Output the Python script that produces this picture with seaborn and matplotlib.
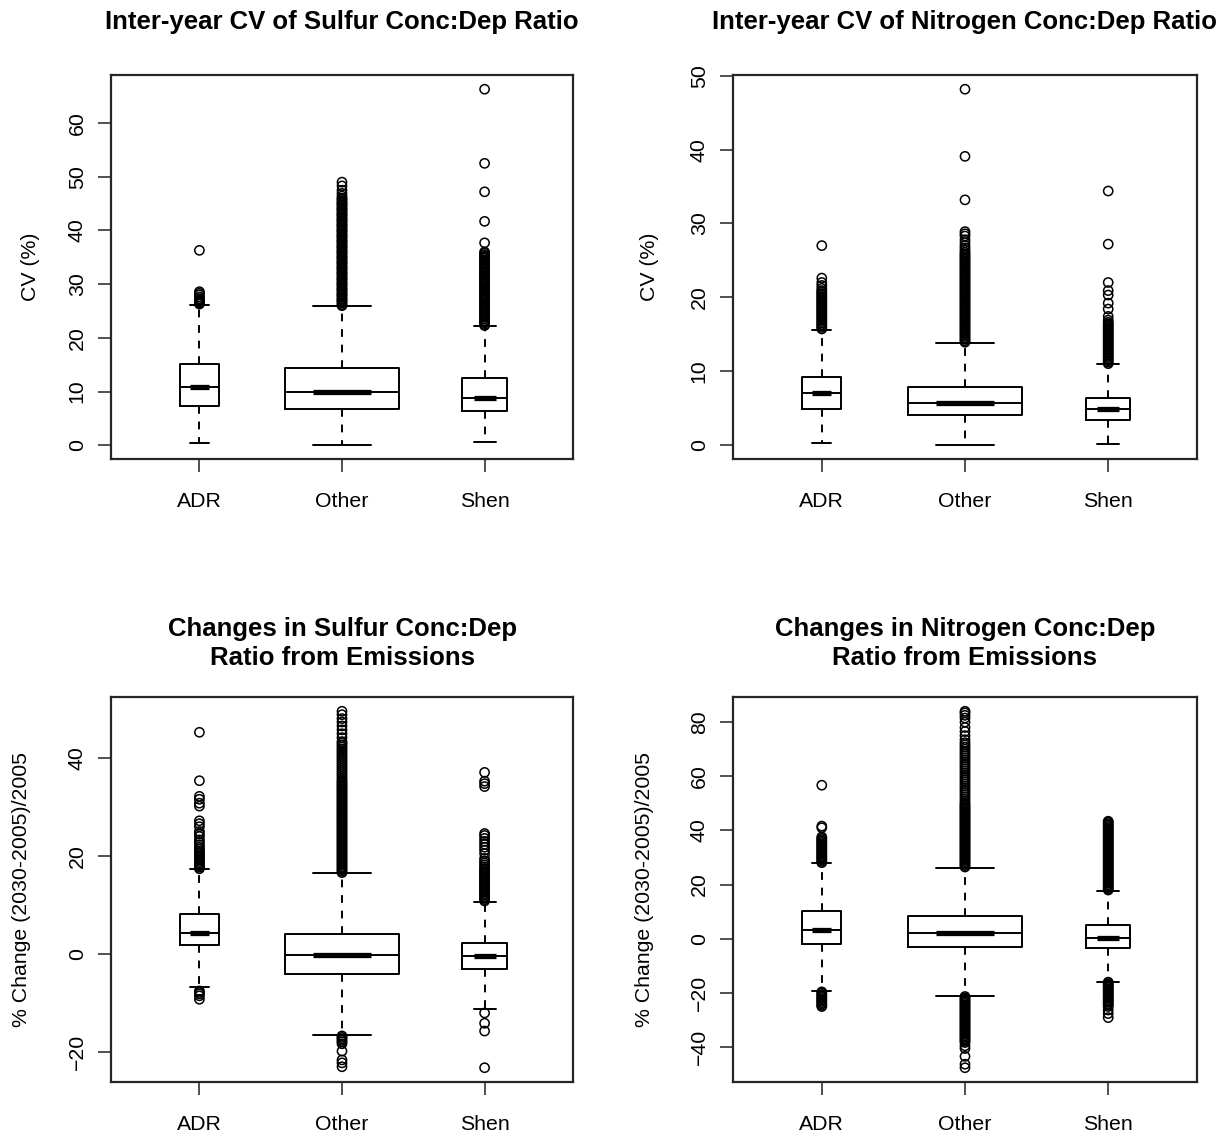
import numpy as np
import pandas as pd
import matplotlib
matplotlib.use("Agg")
import matplotlib.pyplot as plt
from matplotlib.ticker import MultipleLocator
import seaborn as sns

# ---------------- data ----------------
groups = ["ADR", "Other", "Shen"]

# Panel 1: Inter-year CV of Sulfur Conc:Dep Ratio
s_cv_title = "Inter-year CV of Sulfur Conc:Dep Ratio"
s_cv_ylabel = "CV (%)"
s_cv_whislo = [0.4, 0.1, 0.6]
s_cv_q1 = [7.35, 6.7, 6.35]
s_cv_med = [10.9, 10.0, 8.9]
s_cv_q3 = [15.1, 14.4, 12.6]
s_cv_whishi = [26.2, 26.0, 22.2]
s_cv_out_adr = [26.3, 26.5, 26.7, 26.9, 27.1, 27.3, 27.6, 28.0, 28.3, 28.6, 36.3]
s_cv_out_other = [26.0, 26.2, 26.5, 26.8, 27.0, 27.2, 27.5, 27.8, 28.0, 28.2, 28.5,
                  28.8, 29.0, 29.2, 29.5, 29.8, 30.0, 30.2, 30.5, 30.8, 31.0, 31.2,
                  31.5, 31.8, 32.0, 32.2, 32.5, 32.8, 33.0, 33.2, 33.5, 33.8, 34.0,
                  34.2, 34.5, 34.8, 35.0, 35.2, 35.5, 35.8, 36.0, 36.2, 36.5, 36.8,
                  37.0, 37.2, 37.5, 37.8, 38.0, 38.2, 38.5, 38.8, 39.0, 39.2, 39.5,
                  39.8, 40.0, 40.2, 40.5, 40.8, 41.0, 41.2, 41.5, 41.8, 42.0, 42.2,
                  42.5, 42.8, 43.0, 43.2, 43.5, 43.8, 44.0, 44.2, 44.5, 44.8, 45.0,
                  45.2, 45.5, 45.8, 46.0, 46.4, 46.9, 47.5, 48.3, 49.0]
s_cv_out_shen = [22.3, 22.5, 22.8, 23.0, 23.2, 23.5, 23.8, 24.0, 24.2, 24.5, 24.8,
                 25.0, 25.2, 25.5, 25.8, 26.0, 26.2, 26.5, 26.8, 27.0, 27.2, 27.5,
                 27.8, 28.0, 28.2, 28.5, 28.8, 29.0, 29.2, 29.5, 29.8, 30.0, 30.2,
                 30.5, 30.8, 31.0, 31.2, 31.5, 31.8, 32.0, 32.2, 32.5, 32.8, 33.0,
                 33.2, 33.5, 33.8, 34.0, 34.2, 34.5, 34.8, 35.0, 35.2, 35.5, 35.8,
                 36.0, 37.7, 41.7, 47.2, 52.5, 66.3]

# Panel 2: Inter-year CV of Nitrogen Conc:Dep Ratio
n_cv_title = "Inter-year CV of Nitrogen Conc:Dep Ratio"
n_cv_ylabel = "CV (%)"
n_cv_whislo = [0.3, 0.0, 0.05]
n_cv_q1 = [4.8, 4.0, 3.4]
n_cv_med = [7.0, 5.7, 4.8]
n_cv_q3 = [9.15, 7.9, 6.4]
n_cv_whishi = [15.6, 13.8, 10.95]
n_cv_out_adr = [15.7, 15.9, 16.1, 16.3, 16.5, 16.7, 16.9, 17.1, 17.3, 17.5, 17.7,
                17.9, 18.1, 18.3, 18.5, 18.7, 18.9, 19.1, 19.3, 19.5, 19.7, 19.9,
                20.1, 20.3, 20.5, 20.7, 20.9, 21.2, 21.6, 22.0, 22.6, 27.0]
n_cv_out_other = [13.9, 14.1, 14.3, 14.5, 14.7, 14.9, 15.1, 15.3, 15.5, 15.7, 15.9,
                  16.1, 16.3, 16.5, 16.7, 16.9, 17.1, 17.3, 17.5, 17.7, 17.9, 18.1,
                  18.3, 18.5, 18.7, 18.9, 19.1, 19.3, 19.5, 19.7, 19.9, 20.1, 20.3,
                  20.5, 20.7, 20.9, 21.1, 21.3, 21.5, 21.7, 21.9, 22.1, 22.3, 22.5,
                  22.7, 22.9, 23.1, 23.3, 23.5, 23.7, 23.9, 24.1, 24.3, 24.5, 24.7,
                  24.9, 25.1, 25.3, 25.5, 25.7, 25.9, 26.1, 26.4, 26.7, 27.0, 27.4,
                  27.8, 28.3, 28.6, 28.9, 33.2, 39.1, 48.2]
n_cv_out_shen = [11.0, 11.2, 11.4, 11.6, 11.8, 12.0, 12.2, 12.4, 12.6, 12.8, 13.0,
                 13.2, 13.4, 13.6, 13.8, 14.0, 14.2, 14.4, 14.6, 14.8, 15.0, 15.2,
                 15.4, 15.6, 15.8, 16.0, 16.2, 16.4, 16.6, 16.9, 17.4, 18.4, 19.2,
                 20.3, 20.9, 22.0, 27.2, 34.4]

# Panel 3: Changes in Sulfur Conc:Dep Ratio from Emissions
s_ch_title = "Changes in Sulfur Conc:Dep\nRatio from Emissions"
s_ch_ylabel = "% Change (2030-2005)/2005"
s_ch_whislo = [-6.7, -16.65, -11.3]
s_ch_q1 = [1.9, -4.15, -3.2]
s_ch_med = [4.3, -0.3, -0.5]
s_ch_q3 = [8.2, 4.0, 2.25]
s_ch_whishi = [17.3, 16.5, 10.6]
s_ch_out_adr = [17.4, 17.7, 18.0, 18.3, 18.6, 18.9, 19.2, 19.5, 19.8, 20.1, 20.4,
                20.7, 21.0, 21.4, 21.8, 22.3, 22.8, 23.3, 24.0, 24.5, 25.0, 26.0,
                26.6, 27.2, 30.2, 30.8, 31.6, 32.2, 35.4, 45.3,
                -7.6, -7.9, -8.2, -8.6, -9.3]
s_ch_out_other = [16.6, 16.9, 17.2, 17.5, 17.8, 18.1, 18.4, 18.7, 19.0, 19.3, 19.6,
                  19.9, 20.2, 20.5, 20.8, 21.1, 21.4, 21.7, 22.0, 22.3, 22.6, 22.9,
                  23.2, 23.5, 23.8, 24.1, 24.4, 24.7, 25.0, 25.3, 25.6, 25.9, 26.2,
                  26.5, 26.8, 27.1, 27.4, 27.7, 28.0, 28.3, 28.6, 28.9, 29.2, 29.5,
                  29.8, 30.1, 30.4, 30.7, 31.0, 31.3, 31.6, 31.9, 32.2, 32.5, 32.8,
                  33.1, 33.4, 33.7, 34.0, 34.3, 34.6, 34.9, 35.2, 35.5, 35.9, 36.3,
                  36.7, 37.1, 37.5, 37.9, 38.3, 38.7, 39.1, 39.5, 39.9, 40.3, 40.7,
                  41.1, 41.5, 41.9, 42.3, 42.7, 43.1, 43.4, 44.2, 45.0, 45.8, 46.6,
                  47.4, 48.1, 48.9, 49.6,
                  -16.8, -17.1, -17.4, -17.7, -18.0, -18.4, -19.9, -21.7, -22.3, -23.1]
s_ch_out_shen = [10.8, 11.1, 11.4, 11.7, 12.0, 12.3, 12.6, 12.9, 13.2, 13.5, 13.8,
                 14.1, 14.4, 14.7, 15.0, 15.3, 15.6, 15.9, 16.2, 16.5, 16.8, 17.1,
                 17.4, 17.8, 18.2, 18.6, 19.0, 19.5, 20.5, 21.2, 21.8, 22.4, 23.0,
                 23.6, 24.2, 24.6, 34.2, 34.8, 35.3, 37.1,
                 -12.1, -14.2, -15.8, -23.3]

# Panel 4: Changes in Nitrogen Conc:Dep Ratio from Emissions
n_ch_title = "Changes in Nitrogen Conc:Dep\nRatio from Emissions"
n_ch_ylabel = "% Change (2030-2005)/2005"
n_ch_whislo = [-19.4, -21.0, -15.8]
n_ch_q1 = [-1.8, -3.2, -3.4]
n_ch_med = [3.4, 2.1, 0.4]
n_ch_q3 = [10.2, 8.6, 5.0]
n_ch_whishi = [27.9, 26.3, 17.7]
n_ch_out_adr = [28.1, 28.6, 29.1, 29.6, 30.1, 30.6, 31.1, 31.6, 32.1, 32.6, 33.1,
                33.6, 34.1, 34.6, 35.1, 35.6, 36.1, 36.6, 37.1, 37.6, 41.0, 41.6,
                56.7,
                -19.6, -20.1, -20.6, -21.1, -21.6, -22.1, -22.6, -23.1, -23.6,
                -24.1, -24.6, -25.0]
n_ch_out_other = [26.5, 27.0, 27.5, 28.0, 28.5, 29.0, 29.5, 30.0, 30.5, 31.0, 31.5,
                  32.0, 32.5, 33.0, 33.5, 34.0, 34.5, 35.0, 35.5, 36.0, 36.5, 37.0,
                  37.5, 38.0, 38.5, 39.0, 39.5, 40.0, 40.5, 41.0, 41.5, 42.0, 42.5,
                  43.0, 43.5, 44.0, 44.5, 45.0, 45.5, 46.0, 46.5, 47.0, 47.5, 48.0,
                  48.5, 49.0, 49.5, 50.0, 50.8, 51.6, 52.4, 53.2, 54.0, 54.8, 55.6,
                  56.4, 57.2, 58.0, 58.8, 59.6, 60.4, 61.2, 62.0, 62.8, 63.6, 64.4,
                  65.2, 66.0, 66.8, 67.6, 68.4, 69.2, 70.0, 70.8, 71.6, 72.4, 73.5,
                  75.0, 76.5, 78.0, 80.0, 81.5, 82.5, 83.4, 84.0,
                  -21.3, -21.8, -22.3, -22.8, -23.3, -23.8, -24.3, -24.8, -25.3,
                  -25.8, -26.3, -26.8, -27.3, -27.8, -28.3, -28.8, -29.3, -29.8,
                  -30.3, -30.8, -31.3, -31.8, -32.3, -32.8, -33.3, -33.8, -34.3,
                  -34.8, -35.3, -35.8, -36.3, -36.8, -37.3, -37.8, -38.3,
                  -39.5, -40.5, -43.4, -46.3, -47.6]
n_ch_out_shen = [18.0, 18.5, 19.0, 19.5, 20.0, 20.5, 21.0, 21.5, 22.0, 22.5, 23.0,
                 23.5, 24.0, 24.5, 25.0, 25.5, 26.0, 26.5, 27.0, 27.5, 28.0, 28.5,
                 29.0, 29.5, 30.0, 30.5, 31.0, 31.5, 32.0, 32.5, 33.0, 33.5, 34.0,
                 34.5, 35.0, 35.5, 36.0, 36.5, 37.0, 37.5, 38.0, 38.5, 39.0, 39.5,
                 40.0, 40.5, 41.0, 41.5, 42.0, 42.5, 43.0, 43.4,
                 -16.0, -16.5, -17.0, -17.5, -18.0, -18.5, -19.0, -19.5, -20.0,
                 -20.5, -21.0, -21.5, -22.0, -22.5, -23.0, -23.5, -24.0, -24.5,
                 -25.0, -26.3, -27.6, -29.1]

# ---------------- style ----------------
sns.set_style("ticks")
plt.rcParams["font.family"] = ["Liberation Sans", "DejaVu Sans"]
plt.rcParams["text.color"] = "black"
plt.rcParams["axes.labelcolor"] = "black"

BOX_WIDTHS = [0.27, 0.80, 0.31]
LW = 1.4
TICK_FS = 15.3
TITLE_FS = 18.5
FRAME_COLOR = "#262626"

fig = plt.figure(figsize=(12.30, 11.37), dpi=100)
W, H = 1230.0, 1137.0


def add_axes(left, top, right, bottom):
    return fig.add_axes([left / W, 1 - bottom / H, (right - left) / W, (bottom - top) / H])


def draw(ax, title, ylabel, whislo, q1, med, q3, whishi, outliers, step, ylab_x):
    positions = [1, 2, 3]
    stats = [dict(whislo=whislo[i], q1=q1[i], med=med[i], q3=q3[i],
                  whishi=whishi[i], fliers=[], label=groups[i]) for i in range(3)]
    ax.bxp(stats, positions=positions, widths=BOX_WIDTHS,
           capwidths=[w * 0.5 for w in BOX_WIDTHS], showfliers=False,
           boxprops=dict(color="black", linewidth=LW),
           whiskerprops=dict(color="black", linewidth=LW, linestyle=(0, (4, 4))),
           capprops=dict(color="black", linewidth=LW),
           medianprops=dict(color="black", linewidth=LW))
    for i in range(3):
        w = BOX_WIDTHS[i]
        ax.plot([positions[i] - w * 0.25, positions[i] + w * 0.25], [med[i], med[i]],
                color="black", lw=3.8, solid_capstyle="butt", zorder=4)
    df = pd.DataFrame({
        "pos": np.concatenate([[p] * len(o) for p, o in zip(positions, outliers)]),
        "value": np.concatenate([np.asarray(o, float) for o in outliers]),
    })
    sns.scatterplot(data=df, x="pos", y="value", ax=ax, marker="o", s=44,
                    facecolor="none", edgecolor="black", linewidth=1.1,
                    legend=False, zorder=3)
    allv = np.concatenate([df["value"].values, whislo, whishi])
    lo, hi = allv.min(), allv.max()
    r = hi - lo
    ax.set_ylim(lo - 0.04 * r, hi + 0.04 * r)
    ax.set_xlim(0.38, 3.62)
    ax.set_xticks(positions)
    ax.set_xticklabels(groups)
    ax.yaxis.set_major_locator(MultipleLocator(step))
    ax.set_xlabel("")
    ax.set_ylabel(ylabel, fontsize=TICK_FS, va="center", color="black")
    ax.yaxis.set_label_coords(ylab_x, 0.5)
    ax.tick_params(axis="both", direction="out", length=9.5, width=1.2,
                   color="#333333", labelsize=TICK_FS, labelcolor="black")
    ax.tick_params(axis="x", pad=14)
    ax.tick_params(axis="y", pad=8, labelrotation=90)
    for t in ax.get_yticklabels():
        t.set_va("center")
    for s in ax.spines.values():
        s.set_visible(True)
        s.set_linewidth(1.6)
        s.set_color(FRAME_COLOR)
    ax.text(0.5, 1 + 53.0 / 384.0, title, transform=ax.transAxes, ha="center",
            va="center", fontsize=TITLE_FS, fontweight="bold", linespacing=1.25,
            color="black")


ax1 = add_axes(111, 75, 573, 459)
draw(ax1, s_cv_title, s_cv_ylabel, s_cv_whislo, s_cv_q1, s_cv_med, s_cv_q3, s_cv_whishi,
     [s_cv_out_adr, s_cv_out_other, s_cv_out_shen], 10, -0.175)

ax2 = add_axes(733, 75, 1197, 459)
draw(ax2, n_cv_title, n_cv_ylabel, n_cv_whislo, n_cv_q1, n_cv_med, n_cv_q3, n_cv_whishi,
     [n_cv_out_adr, n_cv_out_other, n_cv_out_shen], 10, -0.179)

ax3 = add_axes(111, 697, 573, 1082)
draw(ax3, s_ch_title, s_ch_ylabel, s_ch_whislo, s_ch_q1, s_ch_med, s_ch_q3, s_ch_whishi,
     [s_ch_out_adr, s_ch_out_other, s_ch_out_shen], 20, -0.193)

ax4 = add_axes(733, 697, 1197, 1082)
draw(ax4, n_ch_title, n_ch_ylabel, n_ch_whislo, n_ch_q1, n_ch_med, n_ch_q3, n_ch_whishi,
     [n_ch_out_adr, n_ch_out_other, n_ch_out_shen], 20, -0.19)

fig.savefig("out.png", dpi=100, facecolor="white")
